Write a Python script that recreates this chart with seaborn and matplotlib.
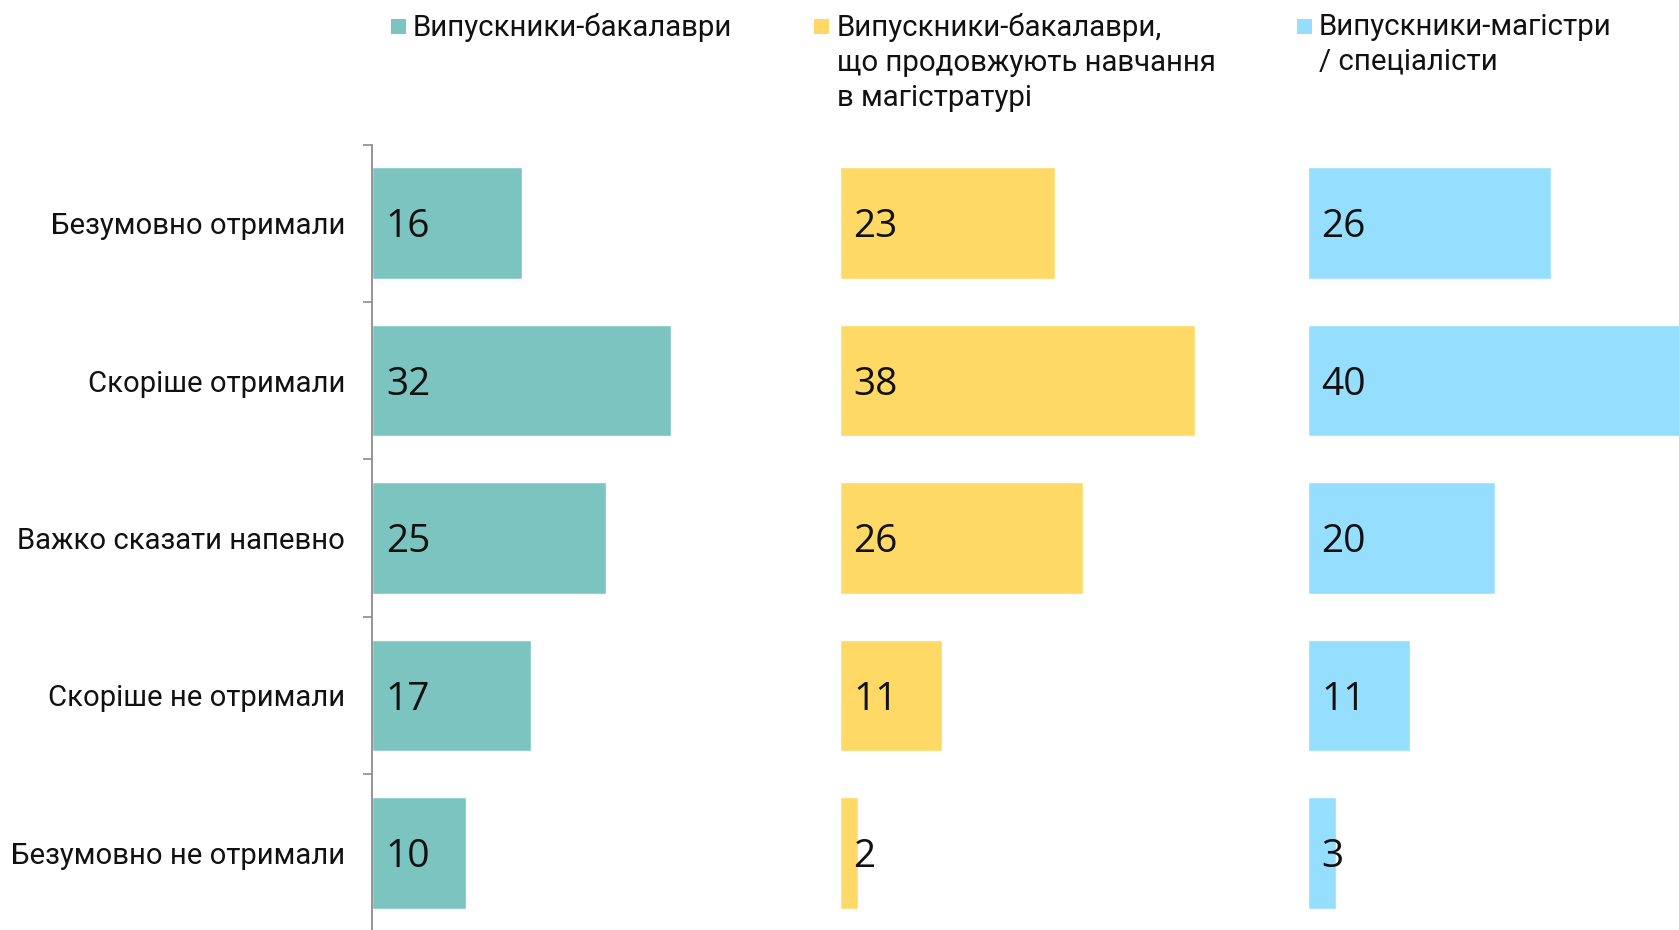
import matplotlib
matplotlib.use("Agg")
import matplotlib.pyplot as plt
import seaborn as sns
import pandas as pd
from matplotlib.patches import Rectangle
from matplotlib.ticker import FixedLocator

# ---- data ----
categories = ["Безумовно отримали", "Скоріше отримали", "Важко сказати напевно",
              "Скоріше не отримали", "Безумовно не отримали"]
bachelors = [16, 32, 25, 17, 10]
bachelors_continuing = [23, 38, 26, 11, 2]
masters = [26, 40, 20, 11, 3]
series_names = ["Випускники-бакалаври",
                "Випускники-бакалаври,\nщо продовжують навчання\nв магістратурі",
                "Випускники-магістри\n/ спеціалісти"]
series_values = [bachelors, bachelors_continuing, masters]
colors = ["#7CC4BF", "#FFD966", "#96DEFD"]

sns.set_theme(style="white")
plt.rcParams["font.family"] = ["Roboto", "DejaVu Sans"]

W, H = 1679, 930
fig = plt.figure(figsize=(W / 100, H / 100), dpi=100)


def fx(px):
    return px / W


def fy(py):
    return 1 - py / H


axes_left = [372, 839.5, 1307.5]
ax_w = 467.5
ax_top = 144.5
ax_bot = 931.5

for i, (vals, col) in enumerate(zip(series_values, colors)):
    ax = fig.add_axes([fx(axes_left[i]), fy(ax_bot), ax_w / W, (ax_bot - ax_top) / H])
    df = pd.DataFrame({"category": categories, "value": vals})
    sns.barplot(data=df, x="value", y="category", ax=ax, color=col,
                saturation=1, width=0.71, orient="h")
    ax.set_xlim(0, 50)
    ax.set_ylim(len(categories) - 0.5, -0.5)
    ax.set_xlabel("")
    ax.set_ylabel("")
    ax.set_xticks([])
    for s in ["top", "right", "bottom"]:
        ax.spines[s].set_visible(False)
    if i == 0:
        ax.spines["left"].set_color("#8C8C8C")
        ax.spines["left"].set_linewidth(1.3)
        ax.yaxis.set_minor_locator(FixedLocator([k - 0.5 for k in range(len(categories) + 1)]))
        ax.tick_params(axis="y", which="major", length=0, pad=19.5, labelsize=21.1,
                       labelcolor="#111111")
        ax.tick_params(axis="y", which="minor", left=True, length=6.5, width=1.2,
                       color="#8C8C8C", direction="out")
    else:
        ax.spines["left"].set_visible(False)
        ax.set_yticks([])
    ax.patch.set_alpha(0)
    for p, v in zip(ax.patches, vals):
        y_c = p.get_y() + p.get_height() / 2
        ax.annotate(str(v), xy=(p.get_x(), y_c), xytext=(10.0, -10.2),
                    textcoords="offset points", ha="left", va="baseline",
                    fontsize=28, family=["Open Sans", "DejaVu Sans"], color="#111111")

# ---- legend (manual, first-line aligned) ----
legend_sq_x = [391, 814, 1297]
legend_txt_x = [413, 837, 1319]
for sx, tx, name, col in zip(legend_sq_x, legend_txt_x, series_names, colors):
    fig.add_artist(Rectangle((fx(sx), fy(34)), 15 / W, 15 / H,
                             transform=fig.transFigure, color=col, lw=0))
    fig.text(fx(tx), fy(12.7), name, ha="left", va="top", fontsize=21.2,
             linespacing=1.32, color="#111111")

fig.savefig("out.png", dpi=100)
